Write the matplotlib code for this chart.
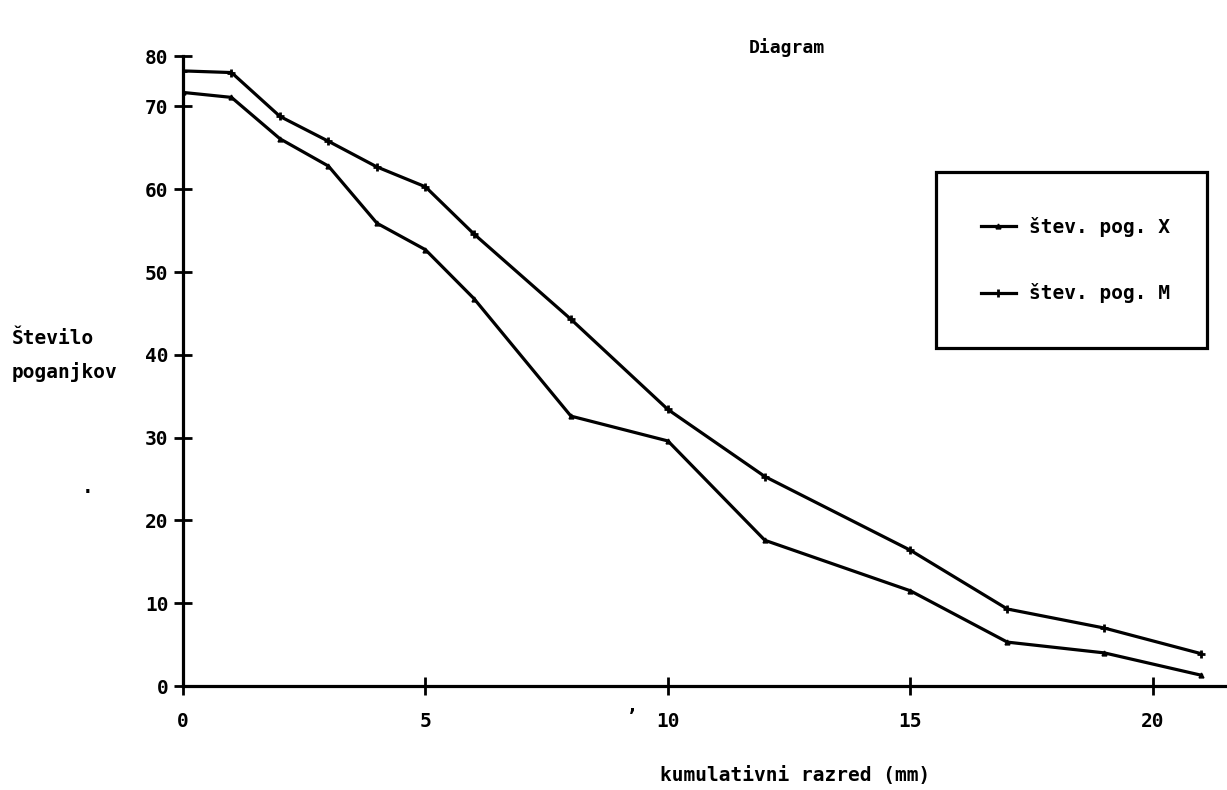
import matplotlib
matplotlib.use("Agg")
from matplotlib import pyplot as plt

# kumulativni razred (mm) and number of shoots for both series
razred = [0, 1, 2, 3, 4, 5, 6, 8, 10, 12, 15, 17, 19, 21]
pog_x = [71.7, 71.1, 66.1, 62.8, 55.9, 52.7, 46.8, 32.6, 29.6, 17.6, 11.5, 5.3, 4.0, 1.3]
pog_m = [74.3, 74.1, 68.8, 65.8, 62.7, 60.3, 54.6, 44.3, 33.4, 25.3, 16.4, 9.3, 7.0, 3.9]

x_ticks = [0, 5, 10, 15, 20]
y_ticks = [0, 10, 20, 30, 40, 50, 60, 70]
y_top = 76.1   # axis top, labelled "80" on the original print

plt.rcParams['font.family'] = ['DejaVu Sans Mono']
plt.rcParams['font.weight'] = 'bold'
FS = 14

fig = plt.figure(figsize=(12.27, 7.90), dpi=100)
ax = fig.add_axes([183/1227, 1 - 686/790, 1 - 183/1227, (686 - 56)/790])

ax.plot(razred, pog_x, 'k-', lw=2.3, marker='^', ms=3.5, label='štev. pog. X')
ax.plot(razred, pog_m, 'k-', lw=2.3, marker='+', ms=6, mew=2, label='štev. pog. M')

ax.set_xlim(0, 21.53)
ax.set_ylim(0, y_top)
ax.set_xticks(x_ticks)
ax.set_yticks(y_ticks + [y_top])
ax.set_yticklabels([str(v) for v in y_ticks] + ['80'])

for side in ['top', 'right']:
	ax.spines[side].set_visible(False)
for side in ['left', 'bottom']:
	ax.spines[side].set_linewidth(2.3)

ax.tick_params(axis='both', direction='inout', length=13, width=2, labelsize=FS)
ax.tick_params(axis='x', pad=12)
ax.tick_params(axis='y', pad=4)

# labels
fig.text(12/1227, 1 - 338/790, 'Število', fontsize=FS, fontweight='bold', va='center', ha='left')
fig.text(12/1227, 1 - 372/790, 'poganjkov', fontsize=FS, fontweight='bold', va='center', ha='left')
fig.text(795/1227, 1 - 775/790, 'kumulativni razred (mm)', fontsize=FS, fontweight='bold', ha='center', va='center')
fig.text(787/1227, 1 - 48/790, 'Diagram', fontsize=13, fontweight='bold', ha='center', va='center')

# scan specks
fig.text(88/1227, 1 - 488/790, '.', fontsize=FS, ha='center', va='center')
fig.text(632/1227, 1 - 718/790, 'ʼ', fontsize=FS, ha='center', va='center')

leg = ax.legend(loc='upper left', bbox_to_anchor=(936/1227, 1 - 353/790, 271/1227, 181/790),
	bbox_transform=fig.transFigure, mode='expand', fancybox=False, edgecolor='black',
	fontsize=FS, borderpad=2.3, labelspacing=2.4, handlelength=1.8, handletextpad=0.7,
	borderaxespad=0, numpoints=1, framealpha=1)
leg.get_frame().set_linewidth(2.3)

fig.savefig('out.png', dpi=100)
